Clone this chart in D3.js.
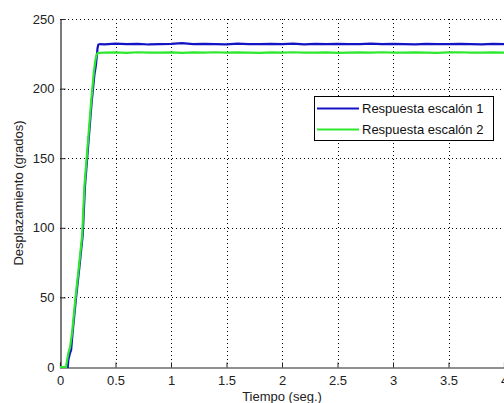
<!DOCTYPE html>
<html>
<head>
<meta charset="utf-8">
<script src="https://cdn.jsdelivr.net/npm/d3@7"></script>
<style>
  html, body { margin: 0; padding: 0; background: #fff; }
  svg { display: block; font-family: "Liberation Sans", Arial, sans-serif; }
</style>
</head>
<body>
<svg id="chart" width="504" height="403"></svg>
<script>
// Step responses: angular displacement (degrees) versus time (s)
const blueTime = [0, 0.07, 0.075, 0.09, 0.1, 0.115, 0.145, 0.175, 0.205, 0.225, 0.255, 0.285, 0.31, 0.322, 0.33, 0.338, 0.345, 0.36,
  0.4, 0.5, 0.6, 0.7, 0.8, 0.9, 1.0, 1.1, 1.2, 1.3, 1.4, 1.5, 1.6, 1.7, 1.8, 1.9, 2.0, 2.1, 2.2, 2.3, 2.4, 2.5,
  2.6, 2.7, 2.8, 2.9, 3.0, 3.1, 3.2, 3.3, 3.4, 3.5, 3.6, 3.7, 3.8, 3.9, 4.0];
const blueValues = [0, 0, 5, 10, 12, 26, 50, 72, 95, 130, 160, 190, 210, 216, 222, 229, 231.5, 232,
  231.8, 232.3, 231.9, 232.1, 231.7, 232.0, 232.2, 232.6, 231.9, 232.1, 232.0, 231.8, 232.3, 232.0, 231.9, 232.2, 232.0, 232.3, 231.8, 232.1, 232.0, 232.2,
  231.9, 232.0, 232.3, 231.9, 232.1, 232.0, 231.8, 232.2, 232.0, 231.9, 232.1, 232.0, 231.8, 232.1, 232.0];

const greenTime = [0, 0.055, 0.06, 0.075, 0.09, 0.108, 0.14, 0.17, 0.2, 0.22, 0.25, 0.28, 0.305, 0.318, 0.328, 0.34,
  0.4, 0.5, 0.6, 0.7, 0.8, 0.9, 1.0, 1.1, 1.2, 1.3, 1.4, 1.5, 1.6, 1.7, 1.8, 1.9, 2.0, 2.1, 2.2, 2.3, 2.4, 2.5,
  2.6, 2.7, 2.8, 2.9, 3.0, 3.1, 3.2, 3.3, 3.4, 3.5, 3.6, 3.7, 3.8, 3.9, 4.0];
const greenValues = [0, 0, 3, 10, 14, 24, 50, 72, 95, 130, 160, 190, 212, 220, 224, 225.6,
  225.8, 226.0, 225.7, 226.1, 225.9, 225.8, 226.0, 225.7, 226.0, 225.9, 226.1, 225.8, 226.0, 225.9, 225.7, 226.0, 225.8, 226.1, 225.9, 225.8, 226.0, 225.7,
  225.9, 226.0, 225.8, 226.1, 225.9, 225.8, 226.0, 225.9, 225.7, 226.0, 226.1, 225.8, 225.9, 226.0, 225.9];

const xTicks = [0, 0.5, 1, 1.5, 2, 2.5, 3, 3.5, 4];
const yTicks = [0, 50, 100, 150, 200, 250];

const seriesNames = ["Respuesta escalón 1", "Respuesta escalón 2"];
const seriesColors = ["#1414c4", "#2ee82e"];

const svg = d3.select("#chart");
const plotLeft = 60, plotTop = 19, plotRight = 504, plotBottom = 367;

const x = d3.scaleLinear().domain([0, 4]).range([plotLeft, plotRight]);
const y = d3.scaleLinear().domain([0, 250]).range([plotBottom, plotTop]);

// Dotted grid
const grid = svg.append("g").attr("stroke", "#000").attr("stroke-width", 1)
  .attr("stroke-dasharray", "1,3");
grid.selectAll("line.gx").data(xTicks.filter(d => d > 0)).join("line")
  .attr("x1", d => Math.round(x(d)) + 0.5).attr("x2", d => Math.round(x(d)) + 0.5)
  .attr("y1", plotTop).attr("y2", plotBottom);
grid.selectAll("line.gy").data(yTicks.filter(d => d > 0)).join("line")
  .attr("x1", plotLeft).attr("x2", plotRight)
  .attr("y1", d => Math.round(y(d)) + 0.5).attr("y2", d => Math.round(y(d)) + 0.5);

// Axes with inward ticks
const xAxis = svg.append("g").attr("transform", `translate(0,${plotBottom + 0.5})`)
  .call(d3.axisBottom(x).tickValues(xTicks).tickSize(-5).tickPadding(8).tickFormat(d3.format("~g")));
const yAxis = svg.append("g").attr("transform", `translate(${plotLeft + 0.5},0)`)
  .call(d3.axisLeft(y).tickValues(yTicks).tickSize(-5).tickPadding(6).tickFormat(d3.format("d")));
[xAxis, yAxis].forEach(a => {
  a.select(".domain").attr("stroke", "#222").attr("stroke-width", 1.2);
  a.selectAll(".tick line").attr("stroke", "#222");
  a.selectAll(".tick text").attr("fill", "#222").attr("font-size", 13)
    .attr("font-family", "Liberation Sans, Arial, sans-serif");
});

// Data lines
const line = d3.line().x(d => x(d[0])).y(d => y(d[1]));
const blueData = d3.zip(blueTime, blueValues);
const greenData = d3.zip(greenTime, greenValues);
svg.append("path").datum(blueData).attr("d", line)
  .attr("fill", "none").attr("stroke", seriesColors[0]).attr("stroke-width", 2.2);
svg.append("path").datum(greenData).attr("d", line)
  .attr("fill", "none").attr("stroke", seriesColors[1]).attr("stroke-width", 2.2);

// Axis titles
svg.append("text").attr("x", (plotLeft + plotRight) / 2).attr("y", 401)
  .attr("text-anchor", "middle").attr("font-size", 13).attr("fill", "#222")
  .text("Tiempo (seg.)");
svg.append("text").attr("transform", `translate(23,${(plotTop + plotBottom) / 2}) rotate(-90)`)
  .attr("text-anchor", "middle").attr("font-size", 13).attr("fill", "#222")
  .text("Desplazamiento (grados)");

// Legend
const legend = svg.append("g");
legend.append("rect").attr("x", 314.5).attr("y", 96.5).attr("width", 179).attr("height", 44)
  .attr("fill", "#fff").attr("stroke", "#000").attr("stroke-width", 1);
seriesNames.forEach((name, i) => {
  const ly = 108.5 + i * 21;
  legend.append("line").attr("x1", 317).attr("x2", 359).attr("y1", ly).attr("y2", ly)
    .attr("stroke", seriesColors[i]).attr("stroke-width", 2);
  legend.append("text").attr("x", 362).attr("y", ly + 4.5)
    .attr("font-size", 13).attr("fill", "#111").text(name);
});
</script>
</body>
</html>
